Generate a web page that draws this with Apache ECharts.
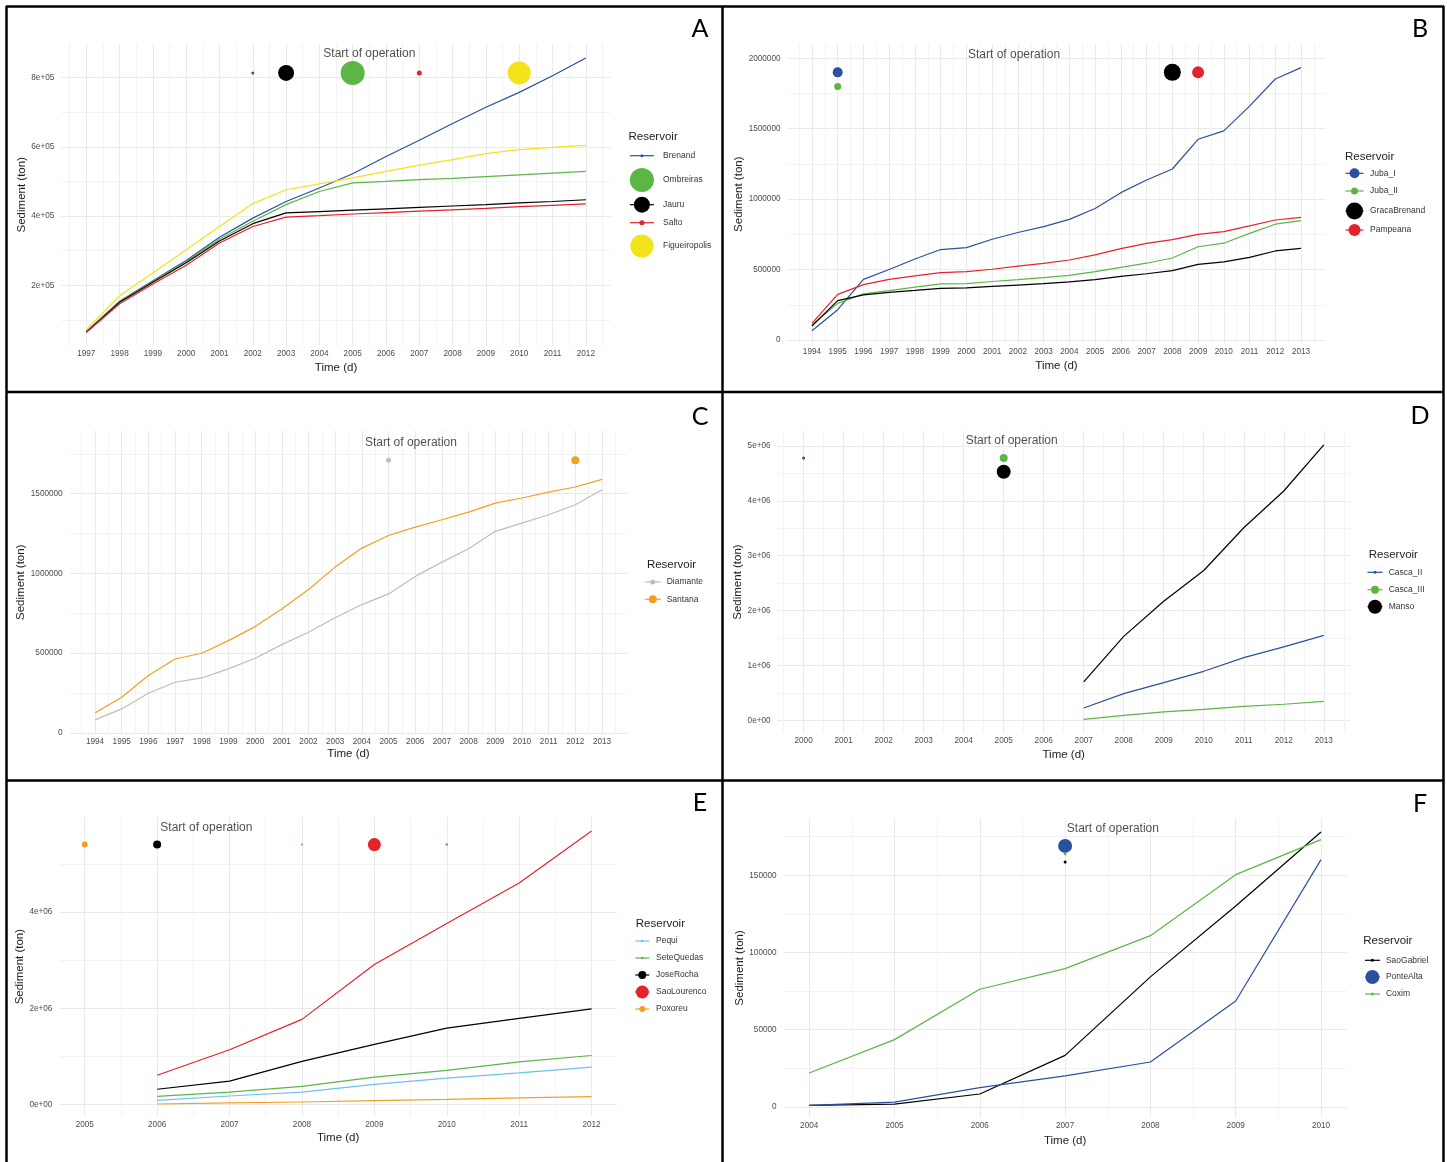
<!DOCTYPE html>
<html><head><meta charset="utf-8">
<script src="https://cdn.jsdelivr.net/npm/echarts@6/dist/echarts.min.js"></script>
<style>html,body{margin:0;padding:0;background:#fff}#c{width:1447px;height:1162px}</style>
</head><body><div id="c"></div>
<script>
// ================= DATA =================
// Panel A
const yearsA = [1997,1998,1999,2000,2001,2002,2003,2004,2005,2006,2007,2008,2009,2010,2011,2012];
const brenandA = [66000,154000,213000,272000,339000,394000,442000,481000,522000,572000,619000,667000,714000,757000,805000,856000];
const ombreirasA = [66000,153000,212000,268000,333000,385000,433000,471000,496000,500000,505000,509000,514000,519000,524000,529000];
const jauruA = [65000,151000,209000,265000,328000,378000,409000,413000,417000,421000,425000,429000,433000,438000,442000,447000];
const saltoA = [64000,147000,204000,258000,322000,370000,397000,401000,406000,410000,414000,418000,422000,427000,431000,435000];
const figueiropolisA = [72000,170000,236000,303000,370000,436000,476000,493000,510000,529000,547000,563000,580000,592000,598000,604000];
const reservoirsA = ['Brenand','Ombreiras','Jauru','Salto','Figueiropolis'];
const startYearsA = [2002,2005,2003,2007,2010];
const startValuesA = [813000,813000,813000,813000,813000];
const xLabelsA = [1997,1998,1999,2000,2001,2002,2003,2004,2005,2006,2007,2008,2009,2010,2011,2012];
const yLabelsA = [200000,400000,600000,800000];

// Panel B
const yearsB = [1994,1995,1996,1997,1998,1999,2000,2001,2002,2003,2004,2005,2006,2007,2008,2009,2010,2011,2012,2013];
const jubaIB = [66000,215000,430000,500000,575000,642000,656000,715000,763000,805000,856000,933000,1046000,1136000,1214000,1425000,1485000,1660000,1853000,1934000];
const jubaIIB = [106000,260000,327000,350000,375000,398000,400000,415000,428000,442000,458000,485000,515000,545000,582000,662000,687000,757000,822000,847000];
const gracaBrenandB = [99000,279000,320000,338000,352000,367000,370000,380000,390000,400000,412000,428000,452000,470000,492000,537000,554000,587000,632000,651000];
const pampeanaB = [118000,324000,393000,430000,455000,478000,485000,502000,525000,544000,568000,604000,648000,686000,712000,750000,769000,810000,852000,871000];
const reservoirsB = ['Juba_I','Juba_II','GracaBrenand','Pampeana'];
const startYearsB = [1995,1995,2008,2009];
const startValuesB = [1900000,1800000,1900000,1900000];
const xLabelsB = [1994,1995,1996,1997,1998,1999,2000,2001,2002,2003,2004,2005,2006,2007,2008,2009,2010,2011,2012,2013];
const yLabelsB = [0,500000,1000000,1500000,2000000];

// Panel C
const yearsC = [1994,1995,1996,1997,1998,1999,2000,2001,2002,2003,2004,2005,2006,2007,2008,2009,2010,2011,2012,2013];
const diamanteC = [82000,151000,249000,318000,345000,402000,469000,554000,632000,722000,805000,872000,981000,1071000,1155000,1264000,1316000,1368000,1431000,1525000];
const santanaC = [125000,224000,360000,464000,500000,579000,667000,778000,900000,1040000,1159000,1238000,1291000,1337000,1385000,1441000,1473000,1510000,1542000,1590000];
const reservoirsC = ['Diamante','Santana'];
const startYearsC = [2005,2012];
const startValuesC = [1710000,1710000];
const xLabelsC = [1994,1995,1996,1997,1998,1999,2000,2001,2002,2003,2004,2005,2006,2007,2008,2009,2010,2011,2012,2013];
const yLabelsC = [0,500000,1000000,1500000];

// Panel D
const yearsD = [2007,2008,2009,2010,2011,2012,2013];
const cascaIID = [225000,486000,687000,893000,1142000,1337000,1549000];
const cascaIIID = [18000,91000,152000,200000,255000,292000,346000];
const mansoD = [700000,1530000,2170000,2730000,3510000,4180000,5020000];
const reservoirsD = ['Casca_II','Casca_III','Manso'];
const startYearsD = [2000,2005,2005];
const startValuesD = [4780000,4780000,4530000];
const xLabelsD = [2000,2001,2002,2003,2004,2005,2006,2007,2008,2009,2010,2011,2012,2013];
const yLabelsD = [0,1000000,2000000,3000000,4000000,5000000];

// Panel E
const yearsE = [2006,2007,2008,2009,2010,2011,2012];
const pequiE = [90000,180000,260000,420000,550000,660000,780000];
const seteQuedasE = [170000,260000,380000,570000,710000,890000,1020000];
const joseRochaE = [320000,490000,900000,1250000,1590000,1790000,1990000];
const saoLourencoE = [610000,1140000,1770000,2910000,3760000,4600000,5680000];
const poxoreuE = [14000,35000,55000,83000,110000,140000,166000];
const reservoirsE = ['Pequi','SeteQuedas','JoseRocha','SaoLourenco','Poxoreu'];
const startYearsE = [2008,2010,2006,2009,2005];
const startValuesE = [5400000,5400000,5400000,5400000,5400000];
const xLabelsE = [2005,2006,2007,2008,2009,2010,2011,2012];
const yLabelsE = [0,2000000,4000000];

// Panel F
const yearsF = [2004,2005,2006,2007,2008,2009,2010];
const saoGabrielF = [1100,1900,8400,33400,84200,130100,178000];
const ponteAltaF = [1000,3200,12500,20100,29100,68600,160100];
const coximF = [22000,43600,76200,89600,110900,150400,173100];
const reservoirsF = ['SaoGabriel','PonteAlta','Coxim'];
const startYearsF = [2007,2007,2007];
const startValuesF = [158600,169000,164000];
const xLabelsF = [2004,2005,2006,2007,2008,2009,2010];
const yLabelsF = [0,50000,100000,150000];

// ================= STYLE / LAYOUT =================
const FONT = "'Liberation Sans', Arial, Helvetica, sans-serif";
const C = {blue:'#2B50A0', green:'#5CB646', black:'#000000', red:'#E3232B', yellow:'#F3E31A', grey:'#BDBDBD', orange:'#F2A024', cyan:'#6CC3E8'};
const GRID_MAJOR = '#EAEAEA', GRID_MINOR = '#F3F3F3';

function sci(v){
  if (v === 0) return '0e+00';
  const e = Math.floor(Math.log10(Math.abs(v)) + 1e-9);
  const m = Math.round(v / Math.pow(10, e) * 100) / 100;
  return m + 'e+' + String(e).padStart(2, '0');
}
const plain = v => String(v);

const panels = [
  { letter:'A', years:yearsA, series:[brenandA, ombreirasA, jauruA, saltoA, figueiropolisA], names:reservoirsA,
    colors:[C.blue,C.green,C.black,C.red,C.yellow], sizes:[3,24,16,5,23],
    startYears:startYearsA, startValues:startValuesA, xLabels:xLabelsA, yLabels:yLabelsA, yFmt:sci, yHalf:100000,
    box:{left:61.3, top:43.5, width:549.5, height:302.5}, x:[1996.25,2012.75], y:[25000,898000],
    note:[2005.5,868000], xGap:15.5, yGap:33,
    legend:{tx:628.5, ty:137.3, kx:641.9, kw:24, lx:663, rows:[155.7,180,204.7,222.7,246]}, lp:[700,28.5] },
  { letter:'B', years:yearsB, series:[jubaIB, jubaIIB, gracaBrenandB, pampeanaB], names:reservoirsB,
    colors:[C.blue,C.green,C.black,C.red], sizes:[10,7,17,12],
    startYears:startYearsB, startValues:startValuesB, xLabels:xLabelsB, yLabels:yLabelsB, yFmt:plain, yHalf:250000,
    box:{left:787.5, top:44.2, width:538, height:300}, x:[1993.05,2013.95], y:[-30000,2100000],
    note:[2001.85,2023000], xGap:15.5, yGap:40,
    legend:{tx:1345, ty:157.3, kx:1354.5, kw:18, lx:1370, rows:[173.3,191,211,230]}, lp:[1420,28.5] },
  { letter:'C', years:yearsC, series:[diamanteC, santanaC], names:reservoirsC,
    colors:[C.grey,C.orange], sizes:[5,8],
    startYears:startYearsC, startValues:startValuesC, xLabels:xLabelsC, yLabels:yLabelsC, yFmt:plain, yHalf:250000,
    box:{left:69.65, top:430.7, width:557.7, height:303.1}, x:[1993.05,2013.95], y:[-5000,1895000],
    note:[2005.84,1820000], xGap:14.5, yGap:41.5,
    legend:{tx:646.9, ty:564.7, kx:652.8, kw:16, lx:666.7, rows:[582,599.3]}, lp:[700,417] },
  { letter:'D', years:yearsD, series:[cascaIID, cascaIIID, mansoD], names:reservoirsD,
    colors:[C.blue,C.green,C.black], sizes:[3,8,14],
    startYears:startYearsD, startValues:startValuesD, xLabels:xLabelsD, yLabels:yLabelsD, yFmt:sci, yHalf:500000,
    box:{left:777.6, top:431.2, width:572.2, height:301.7}, x:[1999.35,2013.65], y:[-230000,5270000],
    note:[2005.2,5090000], xGap:15.5, yGap:30,
    legend:{tx:1368.7, ty:555, kx:1375, kw:15, lx:1388.7, rows:[572.3,589.7,606.7]}, lp:[1420,416] },
  { letter:'E', years:yearsE, series:[pequiE, seteQuedasE, joseRochaE, saoLourencoE, poxoreuE], names:reservoirsE,
    colors:[C.cyan,C.green,C.black,C.red,C.orange], sizes:[2.5,2.5,8,13,6],
    startYears:startYearsE, startValues:startValuesE, xLabels:xLabelsE, yLabels:yLabelsE, yFmt:sci, yHalf:1000000,
    box:{left:59.4, top:816.6, width:557.5, height:300.1}, x:[2004.65,2012.35], y:[-250000,5980000],
    note:[2006.68,5750000], xGap:15.5, yGap:31.4,
    legend:{tx:635.8, ty:923.7, kx:642.3, kw:14, lx:656, rows:[941,958,975,992,1009]}, lp:[700,803] },
  { letter:'F', years:yearsF, series:[saoGabrielF, ponteAltaF, coximF], names:reservoirsF,
    colors:[C.black,C.blue,C.green], sizes:[3,14,3],
    startYears:startYearsF, startValues:startValuesF, xLabels:xLabelsF, yLabels:yLabelsF, yFmt:plain, yHalf:25000,
    box:{left:783.6, top:818.1, width:563, height:299.7}, x:[2003.7,2010.3], y:[-7000,187000],
    note:[2007.56,180200], xGap:17, yGap:36,
    legend:{tx:1363.2, ty:941, kx:1372.4, kw:15, lx:1385.9, rows:[960.3,977,994]}, lp:[1420,804] }
];

function gridVals(min, max, half){
  const out = [];
  const k0 = Math.ceil(min / half - 1e-9);
  for (let k = k0; k * half <= max + 1e-9; k++) out.push({v: +(k * half).toFixed(6), major: Math.abs(k) % 2 === 0});
  return out;
}

const grid = [], xAxis = [], yAxis = [], series = [], elements = [];

panels.forEach((p, i) => {
  grid.push(Object.assign({outerBoundsMode:'none', containLabel:false}, p.box));
  const xg = gridVals(p.x[0], p.x[1], 0.5);
  const yg = gridVals(p.y[0], p.y[1], p.yHalf);
  xAxis.push({
    type:'value', gridIndex:i, min:p.x[0], max:p.x[1],
    axisLine:{show:false}, axisTick:{show:false, customValues:xg.map(o => o.v)},
    axisLabel:{customValues:p.xLabels, formatter:v => String(Math.round(v)), color:'#4D4D4D', fontSize:8.2, fontFamily:FONT, margin:4, hideOverlap:false},
    splitLine:{show:true, showMinLine:true, showMaxLine:true, lineStyle:{color: xg[0].major ? [GRID_MAJOR, GRID_MINOR] : [GRID_MINOR, GRID_MAJOR], width:1}},
    name:'Time (d)', nameLocation:'middle', nameGap:p.xGap,
    nameTextStyle:{color:'#222', fontSize:11.5, fontFamily:FONT}
  });
  yAxis.push({
    type:'value', gridIndex:i, min:p.y[0], max:p.y[1],
    axisLine:{show:false}, axisTick:{show:false, customValues:yg.map(o => o.v)},
    axisLabel:{customValues:p.yLabels, formatter:p.yFmt, color:'#4D4D4D', fontSize:8.2, fontFamily:FONT, margin:7, hideOverlap:false},
    splitLine:{show:true, showMinLine:true, showMaxLine:true, lineStyle:{color: yg[0].major ? [GRID_MAJOR, GRID_MINOR] : [GRID_MINOR, GRID_MAJOR], width:1}},
    name:'Sediment (ton)', nameLocation:'middle', nameGap:p.yGap,
    nameTextStyle:{color:'#222', fontSize:11.5, fontFamily:FONT}
  });
  // lines
  p.series.forEach((vals, k) => {
    series.push({
      type:'line', name:p.names[k], xAxisIndex:i, yAxisIndex:i, z:2,
      data:p.years.map((yr, j) => [yr, vals[j]]),
      showSymbol:false, symbol:'none', silent:true,
      lineStyle:{color:p.colors[k], width:1.2}
    });
  });
  // start of operation points
  series.push({
    type:'scatter', xAxisIndex:i, yAxisIndex:i, z:3, silent:true,
    data:p.startYears.map((yr, k) => ({value:[yr, p.startValues[k]], symbolSize:p.sizes[k], itemStyle:{color:p.colors[k], opacity:1}}))
  });
  // annotation
  series.push({
    type:'scatter', xAxisIndex:i, yAxisIndex:i, z:4, silent:true, symbolSize:1,
    itemStyle:{color:'rgba(0,0,0,0)'},
    label:{show:true, position:'inside', formatter:'Start of operation', color:'#1f1f1f', fontSize:12, fontFamily:FONT},
    data:[p.note]
  });
  // legend (graphic)
  const L = p.legend;
  elements.push({type:'text', style:{text:'Reservoir', x:L.tx, y:L.ty, fill:'#222', font:'11.5px ' + FONT, textVerticalAlign:'middle', verticalAlign:'middle'}});
  p.names.forEach((nm, k) => {
    const y = L.rows[k];
    elements.push({type:'line', shape:{x1:L.kx - L.kw / 2, y1:y, x2:L.kx + L.kw / 2, y2:y}, style:{stroke:p.colors[k], lineWidth:1.2}});
    elements.push({type:'circle', shape:{cx:L.kx, cy:y, r:p.sizes[k] / 2}, style:{fill:p.colors[k]}});
    elements.push({type:'text', style:{text:nm, x:L.lx, y:y, fill:'#333', font:'8.5px ' + FONT, textVerticalAlign:'middle', verticalAlign:'middle'}});
  });
  elements.push({type:'text', style:{text:p.letter, x:p.lp[0], y:p.lp[1], fill:'#000', font:'25px Lato, ' + FONT, textAlign:'center', align:'center', textVerticalAlign:'middle', verticalAlign:'middle'}});
});

// panel borders
const B = {stroke:'#000', lineWidth:2.5};
[[6,6.5,1444,6.5],[6.5,6,6.5,1162],[1443.5,6,1443.5,1162],[722.5,6,722.5,1162],[6,392,1444,392],[6,780.5,1444,780.5]]
  .forEach(s => elements.push({type:'line', shape:{x1:s[0], y1:s[1], x2:s[2], y2:s[3]}, style:B, z:100}));

const chart = echarts.init(document.getElementById('c'), null, {renderer:'canvas'});
chart.setOption({
  animation:false, backgroundColor:'#ffffff',
  grid, xAxis, yAxis, series,
  graphic:{elements}
});
</script></body></html>
